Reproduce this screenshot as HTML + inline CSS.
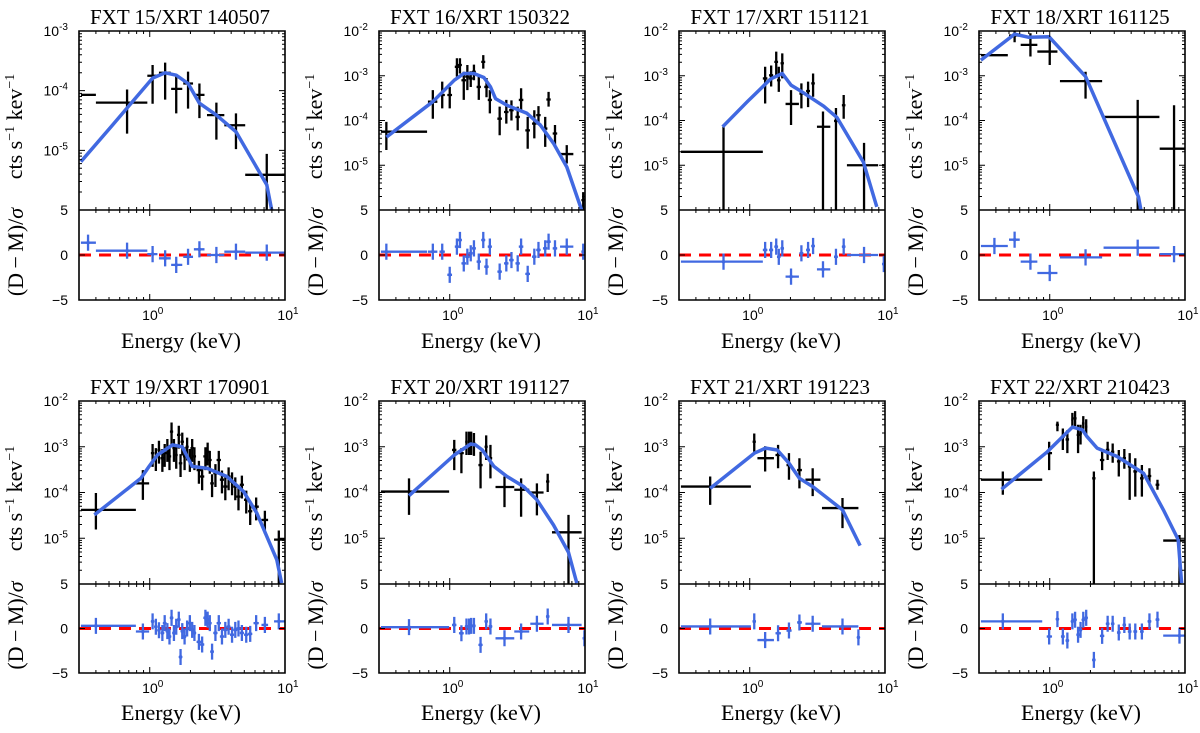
<!DOCTYPE html>
<html><head><meta charset="utf-8"><title>X-ray spectra FXT 15-22</title>
<style>
html,body{margin:0;padding:0;background:#fff;}
svg{display:block;}
</style></head>
<body>
<svg id="fig" xmlns="http://www.w3.org/2000/svg" width="1200" height="733" viewBox="0 0 1200 733"></svg>
<script>
// ---------- data (energies keV, flux as log10 cts/s/keV, residuals in sigma) ----------
const p1Title="FXT 15/XRT 140507";
const p1E=[0.35,0.68,1.05,1.30,1.57,1.92,2.33,3.11,4.34,7.33];
const p1Elo=[0.31,0.40,0.96,1.17,1.44,1.77,2.12,2.65,3.56,5.08];
const p1Ehi=[0.40,0.96,1.14,1.43,1.74,2.09,2.54,3.56,5.08,10];
const p1F=[-4.07,-4.20,-3.75,-3.70,-3.97,-3.88,-4.07,-4.41,-4.58,-5.41];
const p1Flo=[-4.07,-4.72,-4.22,-4.15,-4.38,-4.30,-4.46,-4.82,-4.98,-6.2];
const p1Fhi=[-4.07,-3.98,-3.57,-3.53,-3.75,-3.68,-3.88,-4.20,-4.38,-5.06];
const p1R=[1.37,0.48,0.1,-0.37,-1.1,-0.2,0.63,0,0.37,0.26];
const p1mE=[0.31,0.52,1.05,1.30,1.57,1.92,2.33,3.11,4.34,7.33,7.98];
const p1mF=[-5.19,-4.60,-3.79,-3.70,-3.74,-3.88,-4.21,-4.41,-4.69,-5.58,-6.0];

const p2Title="FXT 16/XRT 150322";
const p2E=[0.34,0.75,0.88,1.0,1.13,1.19,1.27,1.35,1.43,1.51,1.64,1.77,1.87,1.98,2.34,2.62,2.86,3.18,3.37,3.77,4.22,4.53,5.08,5.38,6.0,7.33,9.7];
const p2Elo=[0.31,0.69,0.84,0.96,1.09,1.15,1.22,1.30,1.38,1.46,1.58,1.71,1.80,1.91,2.25,2.52,2.75,3.06,3.24,3.62,4.06,4.36,4.89,5.18,5.77,6.54,9.4];
const p2Ehi=[0.68,0.81,0.92,1.04,1.17,1.23,1.32,1.40,1.48,1.56,1.70,1.83,1.94,2.05,2.43,2.72,2.97,3.30,3.50,3.92,4.38,4.70,5.27,5.58,6.23,8.2,10.2];
const p2F=[-4.25,-3.58,-3.43,-3.43,-2.80,-2.76,-3.10,-3.02,-3.06,-2.91,-3.25,-2.69,-3.25,-3.54,-3.96,-3.81,-3.77,-3.92,-3.54,-4.22,-4.07,-3.88,-4.18,-3.53,-4.29,-4.75,-5.78];
const p2Flo=[-4.66,-3.96,-3.73,-3.73,-3.02,-2.95,-3.54,-3.32,-3.25,-3.1,-3.54,-2.84,-3.48,-3.84,-4.33,-4.07,-4.0,-4.22,-3.81,-4.63,-4.40,-4.1,-4.59,-3.69,-4.55,-4.96,-6.2];
const p2Fhi=[-4.03,-3.32,-3.13,-3.25,-2.61,-2.61,-2.91,-2.76,-2.9,-2.75,-2.99,-2.54,-3.05,-3.32,-3.69,-3.54,-3.55,-3.69,-3.28,-3.92,-3.77,-3.68,-3.92,-3.36,-4.1,-4.55,-5.6];
const p2R=[0.37,0.37,0.37,-2.2,0.93,1.67,-0.93,-0.19,0.19,0.74,-0.74,1.67,-1.3,0.93,-1.85,-0.93,-0.56,-0.93,0.93,-2.1,-0.19,0.56,0.74,1.48,0.74,0.93,0.37];
const p2mE=[0.34,0.75,1.08,1.27,1.51,1.79,2.0,2.18,2.65,3.72,4.67,5.85,7.33,9.44];
const p2mF=[-4.37,-3.58,-3.10,-2.95,-2.95,-3.04,-3.25,-3.51,-3.66,-3.84,-4.10,-4.51,-5.04,-6.0];

const p3Title="FXT 17/XRT 151121";
const p3E=[0.64,1.30,1.44,1.57,1.64,1.74,2.02,2.41,2.70,2.94,3.48,4.34,4.95,7.0,9.8];
const p3Elo=[0.31,1.25,1.39,1.52,1.59,1.69,1.84,2.33,2.61,2.85,3.14,4.2,4.8,5.23,9.5];
const p3Ehi=[1.25,1.35,1.49,1.62,1.69,1.79,2.31,2.49,2.79,3.03,3.94,4.48,5.1,8.9,10.5];
const p3F=[-4.70,-3.06,-2.99,-2.69,-3.10,-2.72,-3.63,-3.40,-3.34,-3.17,-4.14,-4.01,-3.66,-5.0,-5.0];
const p3Flo=[-6.2,-3.62,-3.24,-3.03,-3.36,-3.06,-4.10,-3.73,-3.70,-3.47,-6.2,-6.2,-3.96,-6.2,-5.0];
const p3Fhi=[-4.14,-2.8,-2.77,-2.46,-2.8,-2.5,-3.32,-3.17,-3.13,-2.95,-3.8,-3.72,-3.43,-4.5,-5.0];
const p3R=[-0.74,0.56,0.56,0.93,-0.2,0.74,-2.4,0.19,0.56,1.0,-1.6,-0.2,0.93,0,-1.0];
const p3mE=[0.63,0.96,1.43,1.74,2.02,2.44,3.52,4.41,6.92,8.7];
const p3mF=[-4.14,-3.58,-3.07,-2.95,-3.21,-3.36,-3.68,-3.93,-4.93,-5.93];

const p4Title="FXT 18/XRT 161125";
const p4E=[0.39,0.55,0.72,1.0,1.84,4.47,8.3];
const p4Elo=[0.31,0.50,0.61,0.81,1.19,2.5,6.5];
const p4Ehi=[0.49,0.60,0.81,1.14,2.44,6.47,10];
const p4F=[-2.54,-2.1,-2.31,-2.46,-3.12,-3.92,-4.63];
const p4Flo=[-2.54,-2.25,-2.57,-2.76,-3.51,-6.2,-6.2];
const p4Fhi=[-2.54,-1.95,-2.05,-2.16,-2.91,-3.54,-3.66];
const p4R=[1.0,1.7,-0.74,-2.0,-0.26,0.81,0.1];
const p4mE=[0.31,0.55,0.70,0.99,1.84,4.53,4.72];
const p4mF=[-2.65,-2.07,-2.14,-2.13,-3.02,-5.71,-6.0];

const p5Title="FXT 19/XRT 170901";
const p5E=[0.40,0.89,1.05,1.11,1.17,1.24,1.29,1.35,1.40,1.45,1.51,1.57,1.64,1.74,1.81,1.89,1.98,2.06,2.14,1.69,2.31,2.44,2.58,2.68,2.78,2.89,3.06,3.24,3.42,3.62,3.83,4.06,4.29,4.53,4.80,5.17,5.53,6.12,7.1,9.0];
const p5Elo=[0.31,0.79,1.02,1.08,1.14,1.20,1.25,1.31,1.36,1.41,1.47,1.53,1.59,1.69,1.76,1.84,1.92,2.0,2.08,1.64,2.22,2.35,2.49,2.59,2.69,2.80,2.95,3.12,3.30,3.49,3.70,3.92,4.14,4.37,4.63,4.98,5.33,5.85,6.7,8.3];
const p5Ehi=[0.79,0.99,1.08,1.14,1.20,1.28,1.33,1.39,1.44,1.49,1.55,1.61,1.69,1.79,1.86,1.94,2.04,2.12,2.2,1.74,2.40,2.53,2.67,2.77,2.87,2.98,3.17,3.36,3.54,3.75,3.96,4.20,4.44,4.69,4.97,5.36,5.73,6.4,7.5,10];
const p5F=[-4.38,-3.80,-3.14,-3.23,-3.07,-3.25,-3.14,-3.03,-3.21,-2.67,-3.03,-3.18,-2.74,-2.89,-3.21,-3.0,-3.25,-3.03,-3.21,-3.36,-3.51,-3.65,-3.21,-3.11,-3.29,-3.80,-3.58,-3.29,-3.72,-3.87,-3.65,-3.76,-3.87,-4.09,-3.83,-4.16,-4.41,-4.31,-4.60,-5.03];
const p5Flo=[-4.81,-4.16,-3.44,-3.53,-3.37,-3.55,-3.44,-3.33,-3.51,-2.97,-3.33,-3.48,-3.04,-3.19,-3.51,-3.3,-3.55,-3.33,-3.51,-3.66,-3.81,-3.95,-3.51,-3.41,-3.59,-4.1,-3.88,-3.59,-4.02,-4.17,-3.95,-4.06,-4.17,-4.39,-4.13,-4.46,-4.71,-4.61,-4.9,-6.2];
const p5Fhi=[-4.01,-3.51,-2.94,-3.03,-2.87,-3.05,-2.94,-2.83,-3.01,-2.47,-2.83,-2.98,-2.54,-2.69,-3.01,-2.8,-3.05,-2.83,-3.01,-3.16,-3.31,-3.45,-3.01,-2.91,-3.09,-3.6,-3.38,-3.09,-3.52,-3.67,-3.45,-3.56,-3.67,-3.89,-3.63,-3.96,-4.21,-4.11,-4.40,-4.83];
const p5R=[0.3,-0.34,0.8,0.2,-0.2,-0.5,0.6,-0.3,-0.9,1.2,-0.5,0.2,1.0,-0.3,-0.9,0,0.6,-0.15,-0.5,-3.2,-1.5,-1.8,1.2,1.0,0.6,-2.6,-0.5,0.6,-0.9,-0.15,0.2,-0.7,-0.15,0,-0.5,-0.7,-0.6,0.6,0.4,0.8];
const p5mE=[0.39,0.86,0.99,1.14,1.47,1.74,1.89,2.06,2.65,3.72,4.94,6.19,7.33,8.7,9.44];
const p5mF=[-4.49,-3.69,-3.43,-3.18,-2.96,-3.0,-3.21,-3.43,-3.47,-3.65,-3.98,-4.45,-4.96,-5.47,-5.98];

const p6Title="FXT 20/XRT 191127";
const p6E=[0.50,1.08,1.22,1.33,1.39,1.44,1.51,1.69,1.86,2.0,2.54,3.37,4.41,5.3,7.55,9.9];
const p6Elo=[0.31,1.04,1.17,1.30,1.36,1.41,1.47,1.63,1.81,1.94,2.18,3.0,3.94,5.15,5.7,9.6];
const p6Ehi=[0.99,1.12,1.27,1.36,1.42,1.47,1.55,1.75,1.91,2.06,3.0,3.87,4.94,5.45,9.44,10.5];
const p6F=[-3.98,-3.07,-3.14,-2.89,-2.89,-2.89,-2.93,-3.40,-3.0,-3.25,-3.88,-3.94,-4.0,-3.76,-4.87,-6.5];
const p6Flo=[-4.49,-3.51,-3.58,-3.18,-3.18,-3.18,-3.2,-3.91,-3.29,-3.69,-4.32,-4.53,-4.5,-3.99,-6.2,-6.5];
const p6Fhi=[-3.69,-2.85,-3.03,-2.67,-2.67,-2.67,-2.7,-3.11,-2.75,-2.96,-3.65,-3.69,-3.80,-3.59,-4.49,-6.5];
const p6R=[0.15,0.4,-0.53,0.23,0.23,0.3,0.3,-1.84,0.8,0.23,-1.1,-0.34,0.53,1.35,0.4,-1.1];
const p6mE=[0.50,1.08,1.43,1.55,1.74,2.12,2.65,3.52,4.41,5.85,7.55,8.7];
const p6mF=[-4.07,-3.18,-2.94,-2.96,-3.07,-3.43,-3.65,-3.87,-4.16,-4.71,-5.31,-5.98];

const p7Title="FXT 21/XRT 191223";
const p7E=[0.51,1.08,1.30,1.62,1.95,2.33,2.92,4.85,6.36];
const p7Elo=[0.31,1.05,1.14,1.55,1.87,2.24,2.58,3.42,6.25];
const p7Ehi=[1.02,1.11,1.51,1.70,2.04,2.43,3.33,6.36,6.47];
const p7F=[-3.87,-2.89,-3.25,-3.18,-3.40,-3.51,-3.72,-4.34,-6.5];
const p7Flo=[-4.27,-3.11,-3.54,-3.47,-3.72,-3.91,-4.08,-4.78,-6.5];
const p7Fhi=[-3.65,-2.71,-2.99,-2.96,-3.14,-3.25,-3.47,-4.12,-6.5];
const p7R=[0.23,0.8,-1.3,-0.53,-0.23,0.68,0.53,0.23,-1.0];
const p7mE=[0.51,1.08,1.31,1.60,1.95,2.33,2.92,4.85,6.54];
const p7mF=[-3.91,-3.14,-3.03,-3.07,-3.36,-3.69,-3.87,-4.38,-5.16];

const p8Title="FXT 22/XRT 210423";
const p8E=[0.45,0.99,1.14,1.25,1.35,1.47,1.54,1.62,1.69,1.77,1.86,2.12,2.44,2.68,2.92,3.24,3.56,3.9,4.29,4.8,5.46,6.26,9.1];
const p8Elo=[0.31,0.95,1.11,1.21,1.31,1.44,1.50,1.58,1.65,1.73,1.82,2.06,2.35,2.60,2.84,3.14,3.46,3.78,4.15,4.65,5.29,6.06,6.9];
const p8Ehi=[0.88,1.04,1.17,1.29,1.39,1.50,1.58,1.66,1.73,1.81,1.90,2.18,2.53,2.76,3.0,3.34,3.66,4.02,4.43,4.95,5.63,6.46,10];
const p8F=[-3.72,-3.14,-2.52,-2.78,-2.84,-2.41,-2.38,-2.74,-2.71,-2.49,-2.56,-3.69,-3.29,-3.07,-3.11,-3.32,-3.25,-3.43,-3.54,-3.69,-3.64,-3.83,-5.05];
const p8Flo=[-4.05,-3.51,-2.66,-3.07,-3.14,-2.55,-2.55,-3.14,-2.95,-2.65,-2.75,-6.2,-3.51,-3.29,-3.35,-3.65,-3.48,-4.16,-4.09,-4.09,-3.83,-3.94,-6.2];
const p8Fhi=[-3.54,-2.89,-2.45,-2.60,-2.64,-2.26,-2.22,-2.52,-2.52,-2.33,-2.40,-3.54,-3.07,-2.89,-2.93,-3.07,-3.05,-3.14,-3.25,-3.40,-3.47,-3.72,-4.93];
const p8R=[0.8,-0.9,1.05,-0.9,-1.35,0.8,0.98,-0.7,-0.15,0.98,1.2,-3.53,-0.83,0.53,0.53,-0.45,0.4,-0.34,-0.34,-0.34,0.8,1.0,-0.8];
const p8mE=[0.44,0.96,1.47,1.74,1.89,2.24,3.14,4.94,6.92,8.9,9.44];
const p8mF=[-3.93,-3.11,-2.57,-2.63,-2.78,-3.03,-3.21,-3.58,-4.38,-5.03,-5.98];

const yTopExp=[-3,-2,-2,-2,-2,-2,-2,-2];
const residTicks=[5,0,-5];
const resErr=0.9;

// ---------- layout ----------
const NS="http://www.w3.org/2000/svg";
const svg=document.getElementById("fig");
const colL=[79,379,679,979], W=206;
const rows=[{T:31,D:210,B:300,title:24,tick:320,xl:348},{T:401,D:584,B:673,title:394,tick:693,xl:720}];
const X0=Math.log10(0.3), X1=1, YBOT=-6;
const BLUE="#4169e1";
const panels=[
 [p1Title,p1E,p1Elo,p1Ehi,p1F,p1Flo,p1Fhi,p1R,p1mE,p1mF],
 [p2Title,p2E,p2Elo,p2Ehi,p2F,p2Flo,p2Fhi,p2R,p2mE,p2mF],
 [p3Title,p3E,p3Elo,p3Ehi,p3F,p3Flo,p3Fhi,p3R,p3mE,p3mF],
 [p4Title,p4E,p4Elo,p4Ehi,p4F,p4Flo,p4Fhi,p4R,p4mE,p4mF],
 [p5Title,p5E,p5Elo,p5Ehi,p5F,p5Flo,p5Fhi,p5R,p5mE,p5mF],
 [p6Title,p6E,p6Elo,p6Ehi,p6F,p6Flo,p6Fhi,p6R,p6mE,p6mF],
 [p7Title,p7E,p7Elo,p7Ehi,p7F,p7Flo,p7Fhi,p7R,p7mE,p7mF],
 [p8Title,p8E,p8Elo,p8Ehi,p8F,p8Flo,p8Fhi,p8R,p8mE,p8mF]
];
function mk(parent,tag,attrs){const el=document.createElementNS(NS,tag);for(const k in attrs)el.setAttribute(k,attrs[k]);parent.appendChild(el);return el;}
const defs=mk(svg,"defs",{});

panels.forEach((p,i)=>{
  const [title,E,Elo,Ehi,F,Flo,Fhi,R,mE,mF]=p;
  const L=colL[i%4], rw=rows[Math.floor(i/4)], T=rw.T, D=rw.D, B=rw.B, Rr=L+W;
  const top=yTopExp[i];
  const xs=e=>L+(Math.log10(e)-X0)/(X1-X0)*W;
  const ys=lf=>T+(top-lf)/(top-YBOT)*(D-T);
  const rs=r=>(D+B)/2-r*(B-D)/10;
  const g=mk(svg,"g",{});
  
  
  const c1=mk(defs,"clipPath",{id:"ct"+i}); mk(c1,"rect",{x:L,y:T,width:W,height:D-T});
  const c2=mk(defs,"clipPath",{id:"cr"+i}); mk(c2,"rect",{x:L,y:D,width:W,height:B-D});
  const tt=mk(g,"text",{x:L+W/2-2,y:rw.title,"text-anchor":"middle","font-family":"Liberation Serif, serif","font-size":21});
  tt.textContent=title;
  
  
  const gs=mk(g,"g",{"clip-path":"url(#ct"+i+")"});
  
  
  for(let k=0;k<E.length;k++){
    const eb=mk(gs,"path",{d:`M${xs(Elo[k])},${ys(F[k])}H${xs(Ehi[k])}M${xs(E[k])},${ys(Fhi[k])}V${ys(Flo[k])}`,stroke:"#000","stroke-width":2.3,fill:"none"});
    
    
  }
  const mpts=mE.map((e,k)=>xs(e).toFixed(1)+","+ys(mF[k]).toFixed(1)).join(" ");
  const ml=mk(gs,"polyline",{points:mpts,fill:"none",stroke:BLUE,"stroke-width":3.5,"stroke-linejoin":"round"});
  
  
  const gr=mk(g,"g",{"clip-path":"url(#cr"+i+")"});
  
  
  const zl=mk(gr,"line",{x1:L,x2:Rr,y1:rs(0),y2:rs(0),stroke:"#ff0000","stroke-width":3,"stroke-dasharray":"12,8"});
  
  
  for(let k=0;k<R.length;k++){
    const rb=mk(gr,"path",{d:`M${xs(Elo[k])},${rs(R[k])}H${xs(Ehi[k])}M${xs(E[k])},${rs(R[k]+resErr)}V${rs(R[k]-resErr)}`,stroke:BLUE,"stroke-width":2.3,fill:"none"});
    
    
    const rd=mk(gr,"circle",{cx:xs(E[k]),cy:rs(R[k]),r:1.8,fill:BLUE});
    
    
  }
  let td="";
  const majX=[1,10], minX=[0.3,0.4,0.5,0.6,0.7,0.8,0.9,2,3,4,5,6,7,8,9];
  majX.forEach(e=>{const x=xs(e);td+=`M${x},${T}v6M${x},${D}v-6M${x},${D}v6M${x},${B}v-6`;});
  minX.forEach(e=>{const x=xs(e);td+=`M${x},${T}v3M${x},${D}v-3M${x},${D}v3M${x},${B}v-3`;});
  for(let d=top;d>YBOT;d--){
    if(d<top){const y=ys(d);td+=`M${L},${y}h6M${Rr},${y}h-6`;}
    for(let m=2;m<=9;m++){const y=ys(d-1+Math.log10(m));td+=`M${L},${y}h3M${Rr},${y}h-3`;}
  }
  residTicks.forEach(r=>{const y=rs(r);td+=`M${L},${y}h6M${Rr},${y}h-6`;});
  const tk=mk(g,"path",{d:td,stroke:"#000","stroke-width":1,fill:"none"});
  
  
  const fr=mk(g,"path",{d:`M${L},${T}H${Rr}V${B}H${L}ZM${L},${D}H${Rr}`,stroke:"#000","stroke-width":1.6,fill:"none"});
  
  
  for(let d=top;d>YBOT;d--){
    const yl=mk(g,"text",{x:L-11,y:ys(d)+5,"text-anchor":"end","font-family":"Liberation Sans, sans-serif","font-size":14});
    yl.innerHTML=`10<tspan dy="-6" font-size="10">${d}</tspan>`;
    
    
  }
  residTicks.forEach(r=>{
    const rl=mk(g,"text",{x:L-11,y:rs(r)+5,"text-anchor":"end","font-family":"Liberation Sans, sans-serif","font-size":14});
    rl.textContent=r<0?"\u2212"+(-r):String(r);
    
    
  });
  [[1,"0"],[10,"1"]].forEach(([e,s])=>{
    const xl=mk(g,"text",{x:xs(e)+3,y:rw.tick,"text-anchor":"middle","font-family":"Liberation Sans, sans-serif","font-size":14});
    xl.innerHTML=`10<tspan dy="-6" font-size="10">${s}</tspan>`;
    
    
  });
  const xt=mk(g,"text",{x:L+W/2-1,y:rw.xl,"text-anchor":"middle","font-family":"Liberation Serif, serif","font-size":22});
  xt.textContent="Energy (keV)";
  
  
  const cy=(T+D)/2+6, cx=L-57;
  const yt=mk(g,"text",{x:cx,y:cy,"text-anchor":"middle","font-family":"Liberation Serif, serif","font-size":22,transform:`rotate(-90 ${cx} ${cy})`});
  yt.innerHTML=`cts s<tspan dy="-8" font-size="14">\u22121</tspan><tspan dy="8"> kev</tspan><tspan dy="-8" font-size="14">\u22121</tspan>`;
  
  
  const ry=(D+B)/2-3, rx=L-56;
  const rt=mk(g,"text",{x:rx,y:ry,"text-anchor":"middle","font-family":"Liberation Serif, serif","font-size":22,transform:`rotate(-90 ${rx} ${ry})`});
  rt.innerHTML=`(D\u2009\u2212\u2009M)/<tspan font-style="italic">\u03c3</tspan>`;
  
  
});
</script>
</body></html>
